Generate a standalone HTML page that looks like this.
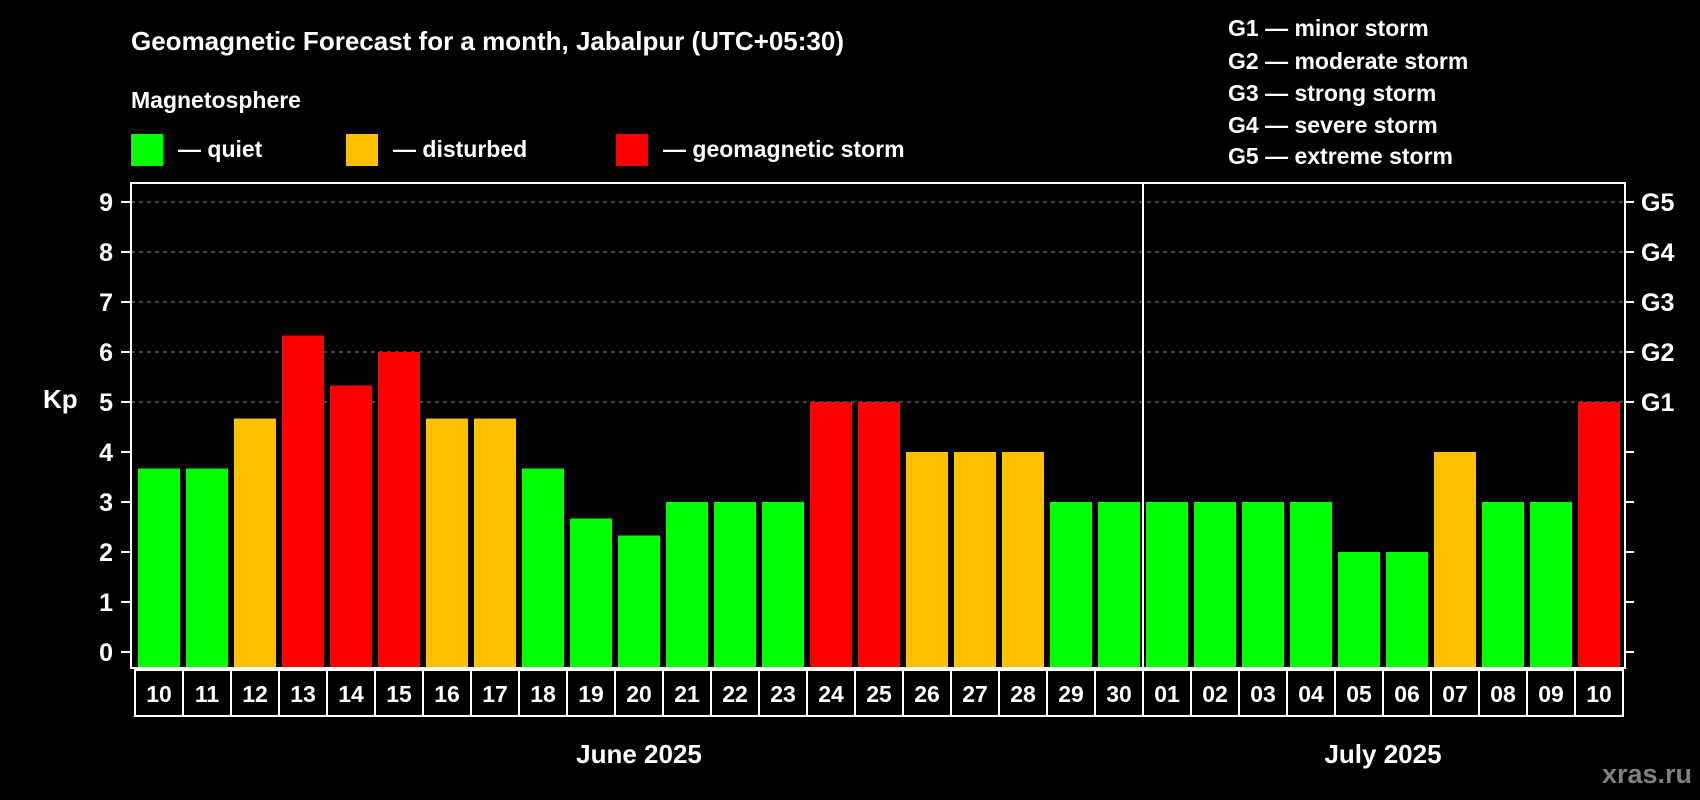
<!DOCTYPE html>
<html><head><meta charset="utf-8"><style>
html,body{margin:0;padding:0;background:#000;}
svg{display:block;font-family:"Liberation Sans",Arial,sans-serif;font-weight:bold;}
</style></head><body>
<svg id="c" width="1700" height="800" viewBox="0 0 1700 800">
<text x="131" y="50" fill="#fff" font-size="26">Geomagnetic Forecast for a month, Jabalpur (UTC+05:30)</text>
<text x="131" y="108" fill="#fff" font-size="23">Magnetosphere</text>
<g><rect x="131" y="134" width="32" height="32" fill="#00ff00"/><text x="178" y="157" fill="#fff" font-size="23">— quiet</text></g>
<g><rect x="346" y="134" width="32" height="32" fill="#ffc000"/><text x="393" y="157" fill="#fff" font-size="23">— disturbed</text></g>
<g><rect x="616" y="134" width="32" height="32" fill="#ff0000"/><text x="663" y="157" fill="#fff" font-size="23">— geomagnetic storm</text></g>
<g fill="#fff" font-size="23">
<text x="1228" y="36">G1 — minor storm</text>
<text x="1228" y="69">G2 — moderate storm</text>
<text x="1228" y="101">G3 — strong storm</text>
<text x="1228" y="133">G4 — severe storm</text>
<text x="1228" y="164">G5 — extreme storm</text>
</g>
<text x="43" y="408" fill="#fff" font-size="26">Kp</text>
<text x="1692" y="783" fill="#808080" font-size="27" text-anchor="end">xras.ru</text>
<g id="plot"></g>
</svg>
<script>
const days = ["10","11","12","13","14","15","16","17","18","19","20","21","22","23","24","25","26","27","28","29","30","01","02","03","04","05","06","07","08","09","10"];
const kpValues = [3.67,3.67,4.67,6.33,5.33,6,4.67,4.67,3.67,2.67,2.33,3,3,3,5,5,4,4,4,3,3,3,3,3,3,2,2,4,3,3,5];
const yTicks = [0,1,2,3,4,5,6,7,8,9];
const gLabels = ["","","","","","G1","G2","G3","G4","G5"];
const months = [{label:"June 2025",from:0,to:20},{label:"July 2025",from:21,to:30}];

const NS="http://www.w3.org/2000/svg";
const g=document.getElementById('plot');
const L=131,R=1625,T=183,B=668,X0=138,STEP=48,BW=42;
const y=v=>652-v*50;
const x=i=>X0+i*STEP;
function mk(t,a,p){const e=document.createElementNS(NS,t);for(const k in a)e.setAttribute(k,a[k]);(p||g).appendChild(e);return e;}
function color(v){return v>=5?"#ff0000":(v>=4?"#ffc000":"#00ff00");}

yTicks.forEach((v,i)=>{
  if(v>=5){const gl=mk('line',{x1:L,x2:R,y1:y(v),y2:y(v),stroke:'#888','stroke-width':1,'stroke-dasharray':'4,4'});
  
  }
  const t1=mk('line',{x1:L-10,x2:L,y1:y(v),y2:y(v),stroke:'#fff','stroke-width':2});
  
  
  const t2=mk('line',{x1:R,x2:R+9,y1:y(v),y2:y(v),stroke:'#fff','stroke-width':2});
  
  
  const lb=mk('text',{x:113,y:y(v)+9,fill:'#fff','font-size':25,'text-anchor':'end'});lb.textContent=v;
  
  
  if(gLabels[i]){const gt=mk('text',{x:1641,y:y(v)+9,fill:'#fff','font-size':25});gt.textContent=gLabels[i];
  
  }
});

kpValues.forEach((v,i)=>{
  const b=mk('rect',{x:x(i),y:y(v),width:BW,height:667-y(v),fill:color(v)});
  
  
  const bx=mk('rect',{x:x(i)-3,y:670,width:STEP,height:46,fill:'none',stroke:'#fff','stroke-width':2});
  
  
  const dt=mk('text',{x:x(i)+BW/2,y:702,fill:'#fff','font-size':23,'text-anchor':'middle'});dt.textContent=days[i];
  
  
});

const frame=mk('rect',{x:L,y:T,width:R-L,height:B-T,fill:'none',stroke:'#fff','stroke-width':2});



months.forEach((m,k)=>{
  const cx=(x(m.from)+x(m.to)+BW)/2;
  const mt=mk('text',{x:cx,y:763,fill:'#fff','font-size':26,'text-anchor':'middle'});mt.textContent=m.label;
  
  
  if(k>0){const d=mk('line',{x1:x(m.from)-3,x2:x(m.from)-3,y1:T,y2:B,stroke:'#fff','stroke-width':2});
  
  }
});
</script>
</body></html>
